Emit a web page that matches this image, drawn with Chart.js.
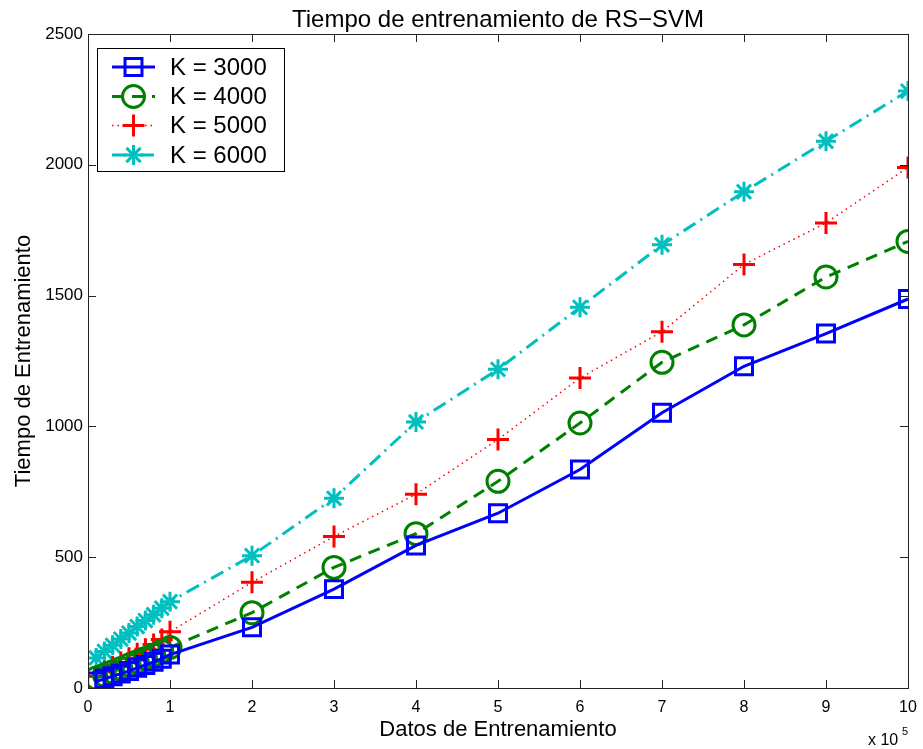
<!DOCTYPE html>
<html>
<head>
<meta charset="utf-8">
<script src="https://cdn.jsdelivr.net/npm/chart.js@4.4.0/dist/chart.umd.min.js"></script>
<style>
  html, body { margin: 0; padding: 0; background: #fff; }
  canvas { display: block; }
</style>
</head>
<body>
<canvas id="trainChart" width="923" height="749"></canvas>
<script>
// Training set sizes (x axis, shown in units of 10^5)
const trainSizes = [10000, 20000, 30000, 40000, 50000, 60000, 70000, 80000, 90000, 100000,
  200000, 300000, 400000, 500000, 600000, 700000, 800000, 900000, 1000000];

// Training times per K
const timeK3000 = [25, 35, 45, 55, 65, 77, 88, 100, 112, 128, 232, 378, 545, 668, 835, 1052, 1230, 1355, 1487];
const timeK4000 = [38, 50, 62, 75, 88, 100, 113, 126, 140, 155, 288, 461, 590, 790, 1013, 1245, 1388, 1571, 1707];
const timeK5000 = [45, 62, 80, 97, 114, 131, 148, 166, 185, 215, 404, 579, 741, 950, 1185, 1362, 1619, 1778, 1990];
const timeK6000 = [115, 140, 163, 187, 210, 235, 258, 280, 305, 330, 506, 725, 1017, 1218, 1455, 1694, 1897, 2090, 2282];

const seriesLabels = ['K = 3000', 'K = 4000', 'K = 5000', 'K = 6000'];
const xTicks = [0, 100000, 200000, 300000, 400000, 500000, 600000, 700000, 800000, 900000, 1000000];
const yTicks = [0, 500, 1000, 1500, 2000, 2500];

const FONT = "'Liberation Sans', Arial, Helvetica, sans-serif";

function toPoints(ys) {
  return trainSizes.map((x, i) => ({ x: x, y: ys[i] }));
}

const styles = [
  { color: '#0000ff', dash: [], width: 3, point: 'rect', radius: 12 },
  { color: '#008000', dash: [12, 8], width: 3, point: 'circle', radius: 11 },
  { color: '#ff0000', dash: [1.5, 4], width: 1.5, point: 'cross', radius: 11 },
  { color: '#00bfbf', dash: [14, 6, 2, 6], width: 3, point: 'star', radius: 10 }
];

const allSeries = [timeK3000, timeK4000, timeK5000, timeK6000];

const datasets = allSeries.map((ys, i) => ({
  label: seriesLabels[i],
  data: toPoints(ys),
  borderColor: styles[i].color,
  borderWidth: styles[i].width,
  borderDash: styles[i].dash,
  pointStyle: styles[i].point,
  pointRadius: styles[i].radius,
  pointHoverRadius: styles[i].radius,
  pointBorderColor: styles[i].color,
  pointBackgroundColor: 'rgba(0,0,0,0)',
  pointBorderWidth: 3,
  tension: 0,
  fill: false
}));

// Box, inward ticks, titles and legend in the MATLAB look
const framePlugin = {
  id: 'frame',
  afterDraw(chart) {
    const ctx = chart.ctx;
    const a = chart.chartArea;
    const xs = chart.scales.x;
    const ys = chart.scales.y;
    ctx.save();
    ctx.strokeStyle = '#222';
    ctx.lineWidth = 1;
    ctx.setLineDash([]);
    ctx.strokeRect(Math.round(a.left) + 0.5, Math.round(a.top) + 0.5,
      Math.round(a.right - a.left), Math.round(a.bottom - a.top));

    const tl = 8;
    ctx.beginPath();
    xTicks.forEach(v => {
      const px = Math.round(xs.getPixelForValue(v)) + 0.5;
      ctx.moveTo(px, a.bottom); ctx.lineTo(px, a.bottom - tl);
      ctx.moveTo(px, a.top); ctx.lineTo(px, a.top + tl);
    });
    yTicks.forEach(v => {
      const py = Math.round(ys.getPixelForValue(v)) + 0.5;
      ctx.moveTo(a.left, py); ctx.lineTo(a.left + tl, py);
      ctx.moveTo(a.right, py); ctx.lineTo(a.right - tl, py);
    });
    ctx.stroke();

    // titles
    ctx.fillStyle = '#000';
    ctx.textAlign = 'center';
    ctx.textBaseline = 'alphabetic';
    ctx.font = '24px ' + FONT;
    ctx.fillText('Tiempo de entrenamiento de RS\u2212SVM', (a.left + a.right) / 2, 27);
    ctx.font = '22px ' + FONT;
    ctx.fillText('Datos de Entrenamiento', (a.left + a.right) / 2, 736);
    ctx.save();
    ctx.translate(30, (a.top + a.bottom) / 2);
    ctx.rotate(-Math.PI / 2);
    ctx.fillText('Tiempo de Entrenamiento', 0, 0);
    ctx.restore();

    // exponent label
    ctx.textAlign = 'left';
    ctx.font = '16px ' + FONT;
    ctx.fillText('x 10', 868, 745);
    ctx.font = '11px ' + FONT;
    ctx.fillText('5', 902, 735);

    // legend
    const lx = 97.5, ly = 48.5, lw = 187, lh = 123;
    ctx.fillStyle = '#fff';
    ctx.fillRect(lx, ly, lw, lh);
    ctx.strokeStyle = '#000';
    ctx.lineWidth = 1;
    ctx.strokeRect(lx, ly, lw, lh);
    const rowY = [67, 96.5, 125.5, 155];
    chart.data.datasets.forEach((ds, i) => {
      const y = rowY[i];
      ctx.save();
      ctx.strokeStyle = ds.borderColor;
      ctx.lineWidth = ds.borderWidth;
      ctx.setLineDash(ds.borderDash);
      ctx.beginPath();
      ctx.moveTo(112, y); ctx.lineTo(155, y);
      ctx.stroke();
      ctx.setLineDash([]);
      ctx.lineWidth = ds.pointBorderWidth;
      ctx.fillStyle = 'rgba(0,0,0,0)';
      Chart.helpers.drawPoint(ctx, { pointStyle: ds.pointStyle, radius: ds.pointRadius, rotation: 0, borderWidth: 3 }, 133.5, y);
      ctx.restore();
      ctx.fillStyle = '#000';
      ctx.font = '24px ' + FONT;
      ctx.textAlign = 'left';
      ctx.textBaseline = 'middle';
      ctx.fillText(ds.label, 170, y + 1);
    });
    ctx.restore();
  }
};

new Chart(document.getElementById('trainChart'), {
  type: 'line',
  data: { datasets: datasets },
  options: {
    responsive: false,
    animation: false,
    events: [],
    layout: { padding: { top: 34, right: 13, left: 0, bottom: 0 } },
    plugins: {
      legend: { display: false },
      title: { display: false },
      tooltip: { enabled: false }
    },
    scales: {
      x: {
        type: 'linear',
        min: 0,
        max: 1000000,
        afterFit: (s) => { s.height = 61; s.paddingLeft = 0; s.paddingRight = 0; },
        afterBuildTicks: (s) => { s.ticks = xTicks.map(v => ({ value: v })); },
        grid: { display: false, drawTicks: false, tickLength: 0 },
        border: { display: false },
        ticks: {
          color: '#000',
          padding: 10,
          maxRotation: 0,
          font: { family: FONT, size: 16 },
          callback: (v) => String(v / 100000)
        }
      },
      y: {
        min: 0,
        max: 2500,
        afterFit: (s) => { s.width = 88; s.paddingTop = 0; s.paddingBottom = 0; },
        afterBuildTicks: (s) => { s.ticks = yTicks.map(v => ({ value: v })); },
        grid: { display: false, drawTicks: false, tickLength: 0 },
        border: { display: false },
        ticks: {
          color: '#000',
          padding: 5,
          font: { family: FONT, size: 17 },
          callback: (v) => String(v)
        }
      }
    }
  },
  plugins: [framePlugin]
});
</script>
</body>
</html>
